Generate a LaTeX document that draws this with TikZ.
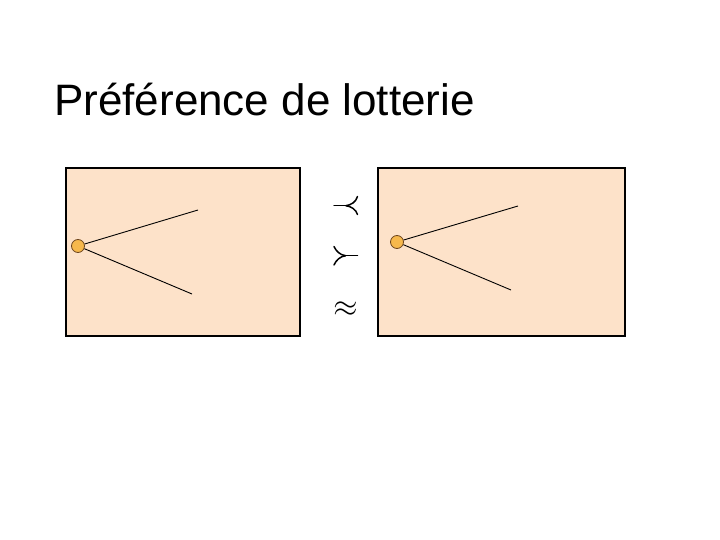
\documentclass[tikz,border=0pt]{standalone}
\usepackage{fontspec}
\setmainfont{Liberation Sans}
\usepackage{unicode-math}
\definecolor{peach}{RGB}{253,226,201}
\definecolor{dotfill}{RGB}{246,184,76}
\definecolor{dotline}{RGB}{110,70,30}
\begin{document}
\begin{tikzpicture}[x=1pt,y=-1pt,
  panel/.style={draw=black,line width=1.3pt,fill=peach},
  chance/.style={circle,draw=dotline,fill=dotfill,line width=0.8pt,minimum size=13pt,inner sep=0pt},
  branch/.style={draw=black,line width=0.9pt},
  glyph/.style={draw=black,line width=1.5pt,line cap=round},
  rel/.style={inner sep=0pt,font=\fontsize{32}{32}\selectfont}]
\useasboundingbox (0,0) rectangle (720,540);
\fill[white] (0,0) rectangle (720,540);
\node[anchor=base west,inner sep=0pt,font=\fontsize{44}{44}\selectfont] (title) at (54,116) {Préférence de lotterie};
% left panel
\draw[panel] (66,168) rectangle (300,336);
\coordinate (la) at (198,210);
\coordinate (lb) at (192,294);
\node[chance] (lc) at (78,246) {};
\draw[branch] (lc) -- (la);
\draw[branch] (lc) -- (lb);
% right panel
\draw[panel] (378,168) rectangle (625,336);
\coordinate (ra) at (518,206);
\coordinate (rb) at (511,290);
\node[chance] (rc) at (397,242) {};
\draw[branch] (rc) -- (ra);
\draw[branch] (rc) -- (rb);
% relation symbols
% top: stem left, arms open to the right
\coordinate (t0) at (334,205.7);
\coordinate (tj) at (346,205.7);
\coordinate (tu) at (357.5,196.5);
\coordinate (td) at (357.5,214.5);
\draw[glyph] (t0) -- (tj);
\draw[glyph] (tj) .. controls (351,205) and (356,202) .. (tu);
\draw[glyph] (tj) .. controls (351,206.4) and (356,209.4) .. (td);
% middle: arms open to the left, stem right
\coordinate (mu) at (334,246.5);
\coordinate (md) at (334,265);
\coordinate (mj) at (345.5,255.7);
\coordinate (m1) at (357.5,255.7);
\draw[glyph] (mu) .. controls (336,251) and (340,255) .. (mj);
\draw[glyph] (md) .. controls (336,260.4) and (340,256.4) .. (mj);
\draw[glyph] (mj) -- (m1);
\node[rel] (s3) at (345.5,309) {$\approx$};
\end{tikzpicture}
\end{document}
